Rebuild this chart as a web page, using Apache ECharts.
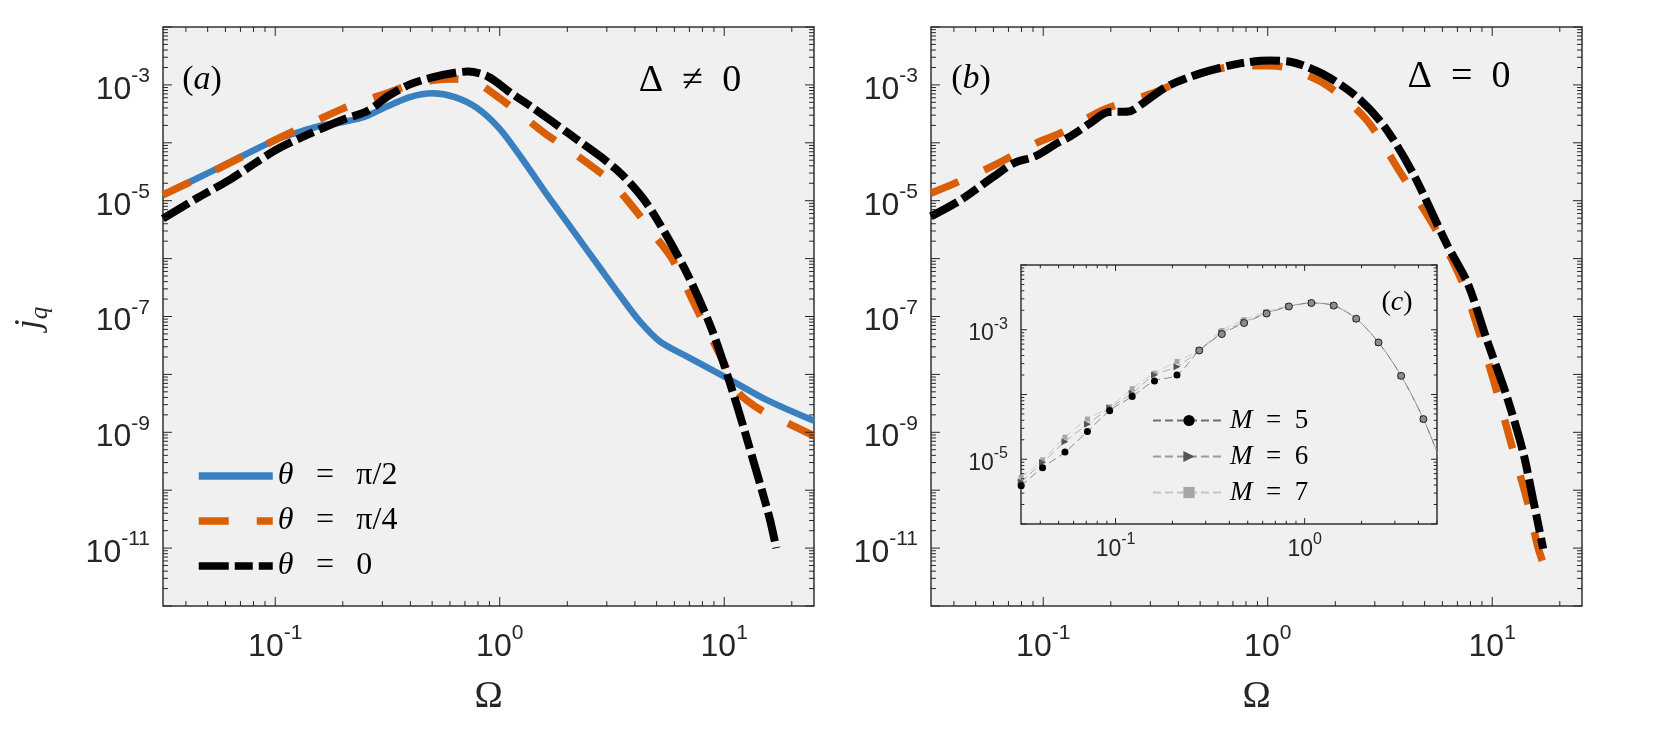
<!DOCTYPE html>
<html>
<head>
<meta charset="utf-8">
<script src="https://cdn.jsdelivr.net/npm/echarts@6/dist/echarts.min.js"></script>
<style>
  html, body { margin: 0; padding: 0; background: #fff; }
  #chart { width: 1661px; height: 738px; }
</style>
</head>
<body>
<div id="chart"></div>
<script>
// ---- data ----
// panel (a), Delta != 0
const omegaA_half = [0.0316, 0.0562, 0.1, 0.126, 0.158, 0.2, 0.251, 0.316, 0.398, 0.501, 0.631, 0.794, 1.0, 1.26, 1.58, 2.0, 2.82, 3.47, 4.22, 5.18, 6.81, 10.26, 15.45, 25.1];
const jA_half = [1.26e-5, 3.72e-5, 1.12e-4, 1.51e-4, 1.95e-4, 2.29e-4, 2.82e-4, 4.27e-4, 6.17e-4, 7.14e-4, 6.17e-4, 3.98e-4, 1.74e-4, 5.25e-5, 1.48e-5, 4.17e-6, 6.61e-7, 2.19e-7, 8.13e-8, 3.67e-8, 2.04e-8, 8.71e-9, 3.63e-9, 1.58e-9];

const omegaA_quarter = [0.0316, 0.0562, 0.1, 0.158, 0.2, 0.251, 0.316, 0.398, 0.501, 0.631, 0.794, 1.0, 1.26, 1.58, 2.0, 2.82, 3.16, 4.07, 5.01, 5.89, 7.59, 10.0, 11.35, 12.6, 14.93, 17.78, 25.1];
const jA_quarter = [1.26e-5, 3.63e-5, 1.12e-4, 2.57e-4, 3.89e-4, 5.37e-4, 7.24e-4, 1.0e-3, 1.20e-3, 1.26e-3, 1.07e-3, 5.89e-4, 2.95e-4, 1.48e-4, 7.94e-5, 3.02e-5, 2.09e-5, 6.46e-6, 2.24e-6, 9.55e-7, 1.29e-7, 1.55e-8, 5.37e-9, 3.55e-9, 2.29e-9, 1.66e-9, 8.71e-10];

const omegaA_zero = [0.0316, 0.0447, 0.0631, 0.1, 0.141, 0.2, 0.251, 0.282, 0.316, 0.398, 0.501, 0.631, 0.724, 0.891, 1.122, 1.413, 1.778, 2.239, 2.818, 3.548, 4.467, 5.623, 7.079, 8.913, 11.22, 13.71, 15.85, 17.06];
const jA_zero = [4.90e-6, 1.10e-5, 2.34e-5, 7.41e-5, 1.41e-4, 2.51e-4, 3.39e-4, 4.47e-4, 6.31e-4, 1.02e-3, 1.35e-3, 1.62e-3, 1.70e-3, 1.38e-3, 7.24e-4, 3.98e-4, 2.09e-4, 1.10e-4, 5.75e-5, 2.69e-5, 9.55e-6, 2.24e-6, 4.17e-7, 5.25e-8, 3.55e-9, 2.57e-10, 3.55e-11, 1.0e-11];

// panel (b), Delta = 0
const omegaB_quarter = [0.0316, 0.0398, 0.0603, 0.0923, 0.123, 0.186, 0.309, 0.501, 0.724, 1.023, 1.23, 1.82, 2.75, 3.89, 5.50, 7.24, 8.81, 10.47, 12.3, 14.45, 16.03, 17.46];
const jB_quarter = [1.35e-5, 1.95e-5, 4.07e-5, 9.77e-5, 1.55e-4, 3.72e-4, 7.24e-4, 1.58e-3, 2.09e-3, 2.14e-3, 1.95e-3, 1.0e-3, 2.51e-4, 3.09e-5, 3.63e-6, 4.57e-7, 4.90e-8, 5.13e-9, 5.37e-10, 5.75e-11, 1.0e-11, 3.80e-12];

const omegaB_zero = [0.0316, 0.0427, 0.0603, 0.0741, 0.0923, 0.115, 0.132, 0.162, 0.195, 0.240, 0.275, 0.355, 0.501, 0.724, 1.023, 1.259, 1.738, 2.483, 3.311, 4.467, 6.310, 7.762, 9.441, 11.59, 13.74, 15.21, 16.87];
const jB_zero = [5.37e-6, 1.02e-5, 2.63e-5, 4.47e-5, 5.89e-5, 9.77e-5, 1.29e-4, 2.19e-4, 3.39e-4, 3.47e-4, 4.68e-4, 9.33e-4, 1.58e-3, 2.29e-3, 2.63e-3, 2.51e-3, 1.58e-3, 6.31e-4, 1.91e-4, 2.82e-5, 1.70e-6, 3.80e-7, 4.07e-8, 4.27e-9, 4.47e-10, 6.92e-11, 9.77e-12];

// inset (c), convergence in M
const omegaC = [0.0317, 0.0411, 0.054, 0.071, 0.0931, 0.1225, 0.1607, 0.2113, 0.2773, 0.3648, 0.4786, 0.6295, 0.826, 1.086, 1.426, 1.875, 2.46, 3.24, 4.25, 5.58];
const jC_M5 = [3.89e-6, 7.41e-6, 1.29e-5, 2.69e-5, 5.62e-5, 9.33e-5, 1.62e-4, 2.00e-4, 4.79e-4, 8.57e-4, 1.27e-3, 1.78e-3, 2.29e-3, 2.59e-3, 2.36e-3, 1.48e-3, 6.37e-4, 1.94e-4, 4.17e-5, 5.9e-6];
const jC_M6 = [4.47e-6, 8.91e-6, 1.86e-5, 3.47e-5, 6.17e-5, 1.05e-4, 2.00e-4, 2.69e-4, 4.79e-4, 9.0e-4, 1.32e-3, 1.82e-3, 2.29e-3, 2.59e-3, 2.36e-3, 1.48e-3, 6.37e-4, 1.94e-4, 4.17e-5, 5.9e-6];
const jC_M7 = [5.25e-6, 9.77e-6, 2.19e-5, 4.17e-5, 6.46e-5, 1.23e-4, 2.14e-4, 3.24e-4, 4.9e-4, 9.77e-4, 1.43e-3, 1.91e-3, 2.34e-3, 2.59e-3, 2.36e-3, 1.48e-3, 6.37e-4, 1.94e-4, 4.17e-5, 5.9e-6];

// axis ranges
const xRange = [0.031623, 25.119];
const yRange = [1e-12, 1e-2];
const xRangeC = [0.031623, 5.012];
const yRangeC = [1e-6, 1e-2];

const seriesNames = ['θ = π/2', 'θ = π/4', 'θ = 0'];
const insetNames = ['M = 5', 'M = 6', 'M = 7'];

// ---- styling ----
const SANS = 'Liberation Sans, Arial, sans-serif';
const SERIF = 'Liberation Serif, DejaVu Serif, serif';
const AXIS = '#262626';
const BLUE = '#3a80c0';
const ORANGE = '#da5e06';
const SP = '\u2002';          // math-like spacing around relations
const SPW = '\u2002\u2009';   // a bit wider, for the main legend

const pairs = (xs, ys) => xs.map((x, i) => [x, ys[i]]);

// 10^n labels, only odd exponents on y axes
function powFmt(oddOnly) {
  return function (v) {
    const l = Math.log10(v);
    const e = Math.round(l);
    if (Math.abs(l - e) > 1e-6) return '';
    if (oddOnly && e % 2 === 0) return '';
    return '{b|10}{s|' + e + '}';
  };
}
function labelRich(big, small, lift) {
  return {
    b: { fontSize: big, lineHeight: big, fontFamily: SANS, color: AXIS, verticalAlign: 'bottom' },
    s: { fontSize: small, lineHeight: small, fontFamily: SANS, color: AXIS, padding: [0, 0, lift, 0], verticalAlign: 'bottom' }
  };
}

// MATLAB-like inward ticks on all four sides (1..9 x 10^n)
function logTicks(r) {
  const out = [];
  const lo = Math.floor(Math.log10(r[0])), hi = Math.ceil(Math.log10(r[1]));
  for (let d = lo; d <= hi; d++) {
    for (let m = 1; m <= 9; m++) {
      const v = m * Math.pow(10, d);
      if (v >= r[0] * 0.9999 && v <= r[1] * 1.0001) out.push({ v: v, major: m === 1 });
    }
  }
  return out;
}
function tickSeries(g, xr, yr, len) {
  const data = [];
  logTicks(xr).forEach(t => data.push([t.v, yr[0], t.major ? 1 : 0]));
  logTicks(yr).forEach(t => data.push([xr[0], t.v, t.major ? 3 : 2]));
  return {
    type: 'custom', xAxisIndex: g, yAxisIndex: g, silent: true, z: 6, clip: false,
    data: data,
    renderItem: function (params, api) {
      const cs = params.coordSys;
      const kind = api.value(2);
      const l = (kind % 2) ? len : len * 0.55;
      const st = { stroke: AXIS, lineWidth: 1 };
      const p = api.coord([api.value(0), api.value(1)]);
      if (kind < 2) {
        const x = p[0];
        return { type: 'group', children: [
          { type: 'line', shape: { x1: x, y1: cs.y + cs.height, x2: x, y2: cs.y + cs.height - l }, style: st },
          { type: 'line', shape: { x1: x, y1: cs.y, x2: x, y2: cs.y + l }, style: st }
        ] };
      }
      const y = p[1];
      return { type: 'group', children: [
        { type: 'line', shape: { x1: cs.x, y1: y, x2: cs.x + l, y2: y }, style: st },
        { type: 'line', shape: { x1: cs.x + cs.width, y1: y, x2: cs.x + cs.width - l, y2: y }, style: st }
      ] };
    }
  };
}

function xAxisOf(g, r, big, small, lift, margin, name) {
  return {
    type: 'log', gridIndex: g, min: r[0], max: r[1], logBase: 10,
    axisLine: { show: false }, axisTick: { show: false }, splitLine: { show: false },
    axisLabel: { formatter: powFmt(false), margin: margin, rich: labelRich(big, small, lift), showMinLabel: true, showMaxLabel: true, hideOverlap: false },
    name: name || '', nameLocation: 'middle', nameGap: 72,
    nameTextStyle: { fontFamily: SERIF, fontSize: 38, color: AXIS }
  };
}
function yAxisOf(g, r, big, small, lift, margin, padTop) {
  return {
    type: 'log', gridIndex: g, min: r[0], max: r[1], logBase: 10, interval: 1,
    axisLine: { show: false }, axisTick: { show: false }, splitLine: { show: false },
    axisLabel: { formatter: powFmt(true), margin: margin, padding: [padTop, 0, 0, 0], rich: labelRich(big, small, lift), showMinLabel: true, showMaxLabel: true, hideOverlap: false }
  };
}

const gridBox = { show: true, backgroundColor: '#f0f0f0', borderColor: '#333', borderWidth: 1.5 };

const solid = { color: BLUE, width: 6.5 };
const dashed = { color: ORANGE, width: 7.5, type: [30, 28] };
const dashDot = { color: '#000', width: 8, type: [30, 6, 18, 6] };

function mainLine(name, g, xs, ys, ls, z) {
  return {
    name: name, type: 'line', xAxisIndex: g, yAxisIndex: g, data: pairs(xs, ys),
    symbol: 'none', smooth: 0.3, lineStyle: ls, itemStyle: { color: ls.color }, z: z
  };
}

// inset: M=5 markers turn grey once the three truncations agree
const m5Data = pairs(omegaC, jC_M5).map((p, i) => i < 8 ? p :
  { value: p, itemStyle: { color: '#8c8c8c', borderColor: '#222', borderWidth: 1 } });

const series = [
  mainLine(seriesNames[0], 0, omegaA_half, jA_half, solid, 3),
  mainLine(seriesNames[1], 0, omegaA_quarter, jA_quarter, dashed, 4),
  mainLine(seriesNames[2], 0, omegaA_zero, jA_zero, dashDot, 5),
  mainLine(seriesNames[1], 1, omegaB_quarter, jB_quarter, dashed, 4),
  mainLine(seriesNames[2], 1, omegaB_zero, jB_zero, dashDot, 5),
  {
    name: insetNames[2], type: 'line', xAxisIndex: 2, yAxisIndex: 2, data: pairs(omegaC, jC_M7),
    symbol: 'rect', symbolSize: 5, smooth: 0.3,
    lineStyle: { color: '#c4c4c4', width: 0.8, type: [8, 4] }, itemStyle: { color: '#a6a6a6' }, z: 3
  },
  {
    name: insetNames[1], type: 'line', xAxisIndex: 2, yAxisIndex: 2, data: pairs(omegaC, jC_M6),
    symbol: 'triangle', symbolRotate: -90, symbolSize: 7, smooth: 0.3,
    lineStyle: { color: '#9a9a9a', width: 0.8, type: [8, 4] }, itemStyle: { color: '#555' }, z: 4
  },
  {
    name: insetNames[0], type: 'line', xAxisIndex: 2, yAxisIndex: 2, data: m5Data,
    symbol: 'circle', symbolSize: 7, smooth: 0.3,
    lineStyle: { color: '#707070', width: 0.8, type: [8, 4] }, itemStyle: { color: '#000' }, z: 5
  },
  tickSeries(0, xRange, yRange, 9),
  tickSeries(1, xRange, yRange, 9),
  tickSeries(2, xRangeC, yRangeC, 6)
];

const chart = echarts.init(document.getElementById('chart'));
chart.setOption({
  animation: false,
  backgroundColor: '#fff',
  grid: [
    Object.assign({ left: 163, top: 27, width: 651, height: 579 }, gridBox),
    Object.assign({ left: 931, top: 27, width: 651, height: 579 }, gridBox),
    Object.assign({ left: 1021, top: 265, width: 416, height: 259 }, gridBox)
  ],
  xAxis: [
    xAxisOf(0, xRange, 32, 21, 19, 25, 'Ω'),
    xAxisOf(1, xRange, 32, 21, 19, 25, 'Ω'),
    xAxisOf(2, xRangeC, 23, 16, 13, 14, '')
  ],
  yAxis: [
    yAxisOf(0, yRange, 32, 21, 19, 13, 10),
    yAxisOf(1, yRange, 32, 21, 19, 13, 10),
    yAxisOf(2, yRangeC, 23, 16, 13, 13, 8)
  ],
  legend: [
    {
      data: seriesNames, orient: 'vertical', left: 190, top: 455,
      itemWidth: 74, itemHeight: 24, itemGap: 13,
      itemStyle: { opacity: 0 },
      lineStyle: { width: 7.5 },
      formatter: n => n.replace('θ', '{i|θ}').replace(' = ', SPW + '=' + SPW),
      textStyle: { fontFamily: SERIF, fontSize: 32, color: '#000',
        rich: { i: { fontFamily: SERIF, fontSize: 32, fontStyle: 'italic', color: '#000' } } }
    },
    {
      data: insetNames, orient: 'vertical', left: 1147, top: 402,
      itemWidth: 72, itemHeight: 14, itemGap: 9,
      formatter: n => n.replace('M', '{i|M}').replace(' = ', SP + '=' + SP),
      textStyle: { fontFamily: SERIF, fontSize: 27, color: '#000',
        rich: { i: { fontFamily: SERIF, fontSize: 27, fontStyle: 'italic', color: '#000' } } }
    }
  ],
  graphic: [
    { type: 'text', x: 202, y: 80, style: { text: '({i|a})', font: '34px ' + SERIF, fill: '#000', align: 'center', verticalAlign: 'middle',
      rich: { i: { fontFamily: SERIF, fontSize: 34, fontStyle: 'italic' } } } },
    { type: 'text', x: 690, y: 81, style: { text: 'Δ' + SP + '≠' + SP + '0', font: '38px ' + SERIF, fill: '#000', align: 'center', verticalAlign: 'middle' } },
    { type: 'text', x: 971, y: 79, style: { text: '({i|b})', font: '34px ' + SERIF, fill: '#000', align: 'center', verticalAlign: 'middle',
      rich: { i: { fontFamily: SERIF, fontSize: 34, fontStyle: 'italic' } } } },
    { type: 'text', x: 1459, y: 77, style: { text: 'Δ' + SP + '=' + SP + '0', font: '38px ' + SERIF, fill: '#000', align: 'center', verticalAlign: 'middle' } },
    { type: 'text', x: 1397, y: 303, style: { text: '({i|c})', font: '28px ' + SERIF, fill: '#000', align: 'center', verticalAlign: 'middle',
      rich: { i: { fontFamily: SERIF, fontSize: 28, fontStyle: 'italic' } } } },
    { type: 'text', x: 32, y: 318, rotation: Math.PI / 2, style: { text: '{j|j}{q|q}', fill: AXIS, align: 'center', verticalAlign: 'middle',
      rich: { j: { fontFamily: SERIF, fontSize: 36, fontStyle: 'italic', verticalAlign: 'top' },
              q: { fontFamily: SERIF, fontSize: 25, fontStyle: 'italic', padding: [16, 0, 0, 0], verticalAlign: 'top' } } } }
  ],
  series: series
});
window.addEventListener('resize', function () { chart.resize(); });
</script>
</body>
</html>
